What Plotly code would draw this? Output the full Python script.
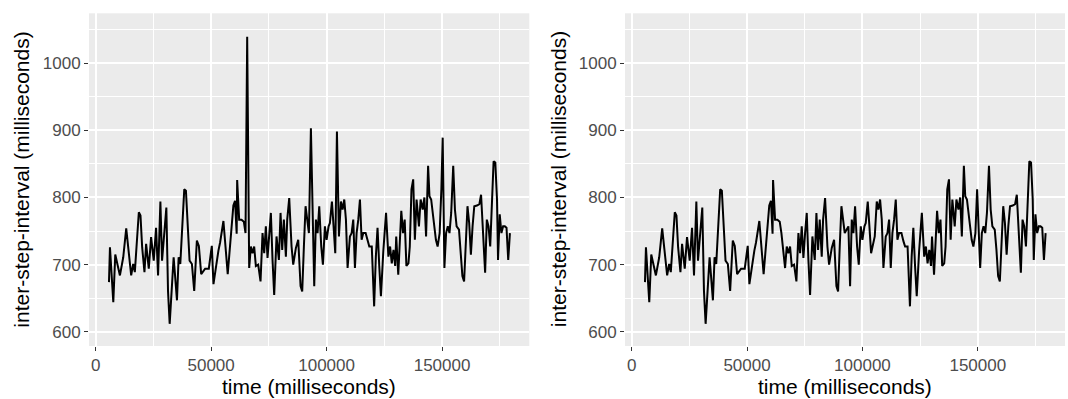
import plotly.graph_objects as go

# time (ms) of each step and the inter-step interval (ms)
time_ms = [5750, 6180, 7620, 8480, 10490, 11930, 13220, 15370, 16240, 16950,
           18680, 19400, 20120, 21120, 21840, 22990, 23990, 25140, 26150, 27010,
           28020, 28740, 30600, 31320, 32040, 33050, 33760, 35200, 35920, 36640,
           38360, 39080, 40660, 41670, 42670, 43820, 44680, 45690, 47410, 48990,
           50290, 51010, 52160, 53160, 53880, 55320, 57180, 58190, 59630, 60350,
           61060, 61270, 62140, 63150, 64160, 64890, 65610, 66480, 67200, 67920,
           68640, 69370, 70380, 71390, 72260, 72980, 73700, 74420, 75150, 75870,
           76590, 77310, 78320, 79340, 80060, 80780, 81500, 82370, 82950, 83820,
           84830, 85550, 86710, 87720, 88730, 89450, 90170, 90900, 91620, 92340,
           93210, 93930, 94650, 95380, 96100, 96820, 97690, 98410, 99280, 100000,
           100870, 101440, 102310, 103030, 103760, 104480, 105350, 106210, 106940, 107660,
           108380, 109100, 110110, 110840, 111560, 112280, 113000, 113730, 114450, 115170,
           115890, 116910, 117770, 118500, 119570, 120600, 121340, 122070, 122810, 123540,
           124570, 125750, 126770, 127510, 128240, 128980, 129710, 130160, 131040, 131920,
           132360, 133100, 133830, 134570, 135450, 136040, 136770, 137510, 138240, 138980,
           140000, 140740, 141620, 142360, 143090, 143970, 144560, 145300, 146330, 147350,
           148090, 148970, 149710, 150290, 151030, 151760, 152500, 153230, 153970, 154850,
           155590, 156320, 157350, 158090, 158820, 159560, 160290, 161030, 161760, 162500,
           163230, 163970, 165140, 166170, 166910, 167640, 168670, 169400, 170140, 170870,
           171610, 172340, 173080, 173810, 174260, 174990, 175730, 176460, 177200, 177930,
           178670, 179400]

interval_ms = [674, 726, 644, 715, 684, 711, 754, 684, 701, 689,
               778, 773, 726, 689, 731, 694, 741, 706, 755, 684,
               794, 706, 785, 661, 612, 681, 711, 647, 711, 701,
               812, 810, 706, 701, 661, 736, 728, 686, 694, 694,
               728, 671, 701, 721, 733, 765, 686, 731, 788, 795,
               746, 826, 767, 767, 764, 747, 1039, 695, 727, 717,
               727, 698, 700, 675, 747, 717, 757, 710, 747, 777,
               707, 655, 742, 707, 777, 722, 767, 712, 767, 799,
               727, 700, 725, 737, 668, 660, 727, 787, 767, 747,
               903, 757, 668, 767, 747, 787, 727, 700, 757, 737,
               757, 762, 794, 757, 717, 898, 742, 794, 782, 797,
               767, 695, 742, 747, 767, 695, 747, 767, 797, 737,
               747, 747, 735, 727, 727, 638, 712, 755, 698, 653,
               720, 777, 712, 727, 702, 722, 698, 742, 685, 742,
               780, 747, 767, 698, 702, 727, 812, 827, 737, 797,
               757, 797, 782, 800, 742, 847, 802, 797, 767, 737,
               727, 747, 812, 889, 695, 747, 757, 747, 777, 847,
               782, 757, 752, 722, 683, 675, 737, 787, 762, 715,
               757, 787, 788, 790, 804, 757, 688, 767, 757, 727,
               782, 854, 852, 797, 707, 775, 747, 757, 757, 755,
               707, 747]

# right panel: same series with the large outlier steps removed
outlier_cut = 870
time_clean = [t for t, v in zip(time_ms, interval_ms) if v < outlier_cut]
interval_clean = [v for v in interval_ms if v < outlier_cut]

x_ticks = [0, 50000, 100000, 150000]
x_ticktext = ["0", "50000", "100000", "150000"]
y_ticks = [600, 700, 800, 900, 1000]
y_ticktext = ["600", "700", "800", "900", "1000"]

x_title = "time (milliseconds)"
y_title = "inter-step-interval (milliseconds)"

W, H = 1068, 399
fig = go.Figure()
fig.add_trace(go.Scatter(x=time_ms, y=interval_ms, mode="lines",
                         line=dict(color="black", width=2.0),
                         xaxis="x", yaxis="y", showlegend=False))
fig.add_trace(go.Scatter(x=time_clean, y=interval_clean, mode="lines",
                         line=dict(color="black", width=2.0),
                         xaxis="x2", yaxis="y2", showlegend=False))

tickfont = dict(family="Liberation Sans, Arial, sans-serif", size=17, color="#4D4D4D")

def xax(domain, anchor):
    return dict(domain=domain, anchor=anchor, range=[-2900, 187800],
                tickvals=x_ticks, ticktext=x_ticktext,
                ticks="outside", ticklen=4, tickwidth=1.2, tickcolor="#333333",
                showgrid=True, gridcolor="white", gridwidth=1.6,
                minor=dict(tickvals=[25000, 75000, 125000, 175000], showgrid=True,
                           gridcolor="white", gridwidth=0.9, ticks=""),
                zeroline=False, showline=False, tickfont=tickfont)

def yax(anchor):
    return dict(domain=[1 - 346 / H, 1 - 13.3 / H], anchor=anchor, range=[579, 1074],
                tickvals=y_ticks, ticktext=y_ticktext,
                ticks="outside", ticklen=4, tickwidth=1.2, tickcolor="#333333",
                showgrid=True, gridcolor="white", gridwidth=1.6,
                minor=dict(tickvals=[650, 750, 850, 950, 1050], showgrid=True,
                           gridcolor="white", gridwidth=0.9, ticks=""),
                zeroline=False, showline=False, tickfont=tickfont)

fig.update_layout(
    width=W, height=H,
    margin=dict(l=0, r=0, t=0, b=0),
    paper_bgcolor="white", plot_bgcolor="#EBEBEB",
    xaxis=xax([89 / W, 529.3 / W], "y"),
    yaxis=yax("x"),
    xaxis2=xax([625 / W, 1065 / W], "y2"),
    yaxis2=yax("x2"),
    showlegend=False,
)

titlefont = dict(family="Liberation Sans, Arial, sans-serif", size=21, color="black")
ymid = 1 - 179.7 / H
for xc in (22, 558.5):
    fig.add_annotation(text=y_title, x=xc / W, y=ymid, xref="paper", yref="paper",
                       textangle=-90, showarrow=False, font=titlefont,
                       xanchor="center", yanchor="middle")
for xc in (309, 845):
    fig.add_annotation(text=x_title, x=xc / W, y=1 - 386 / H, xref="paper", yref="paper",
                       showarrow=False, font=titlefont,
                       xanchor="center", yanchor="middle")

fig.write_html("out.html",
               config={"displayModeBar": False},
               post_script="document.body.style.margin='0';document.body.style.overflow='hidden';")
